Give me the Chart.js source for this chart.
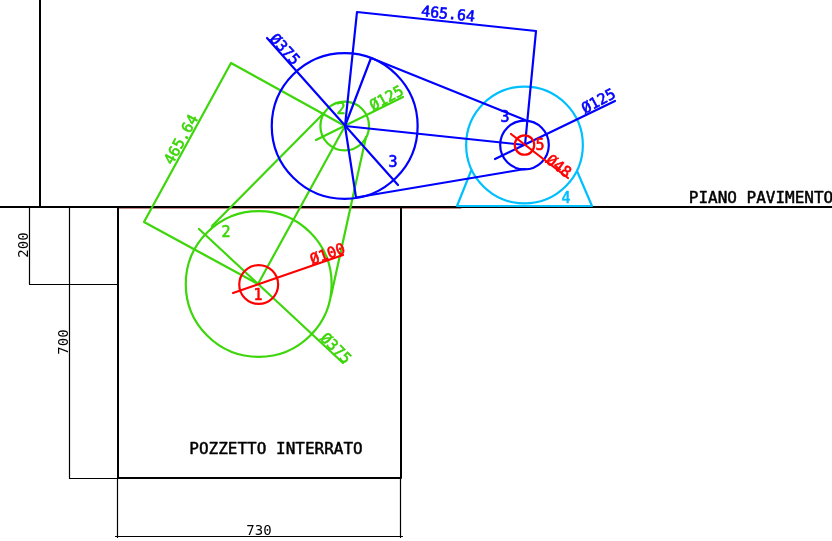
<!DOCTYPE html>
<html lang="it">

<head>
    <meta charset="UTF-8">
    <title>Pozzetto interrato</title>
    <script src="https://cdn.jsdelivr.net/npm/chart.js"></script>
    <style>
        html, body { margin: 0; padding: 0; background: #fff; overflow: hidden; }
        canvas { display: block; }
    </style>
</head>

<body>
    <canvas id="drawing" width="832" height="541"></canvas>
    <script>
        // polylines as [x, y, x, y, ...] in drawing units, y pointing down
        const heavyBlackLines = [
            [0, 207, 832, 207],
            [40, 0, 40, 207],
            [118, 207, 118, 478, 401, 478, 401, 207]
        ];
        const thinBlackLines = [
            [29.5, 207, 29.5, 284.5, 118, 284.5],
            [69.5, 207, 69.5, 478.5, 118, 478.5],
            [117.5, 478, 117.5, 537.5],
            [400.5, 478, 400.5, 537.5],
            [115.5, 536.5, 402.5, 536.5]
        ];
        const darkRedLines = [
            [118, 208.5, 461, 208.5]
        ];
        const redLines = [
            [233, 293, 343, 255],
            [511, 134, 568, 178]
        ];
        const blueLines = [
            [267, 38, 398, 185],
            [357, 12, 536, 31, 525, 145, 345, 126, 357, 12],
            [345, 126, 371, 58, 525, 120],
            [345, 126, 356, 197.5, 525, 169],
            [495, 159, 615, 101]
        ];
        const greenLines = [
            [345, 126, 231, 63, 144, 222, 258, 284, 345, 126],
            [199, 229, 343, 363],
            [212, 226, 324, 113],
            [331, 296, 366, 137],
            [316, 140, 403, 97]
        ];
        const cyanLines = [
            [471, 171, 457, 206, 592, 206, 577, 171]
        ];

        // circles as [centre x, centre y, diameter in mm]
        const redCircles = [[258.7, 284.5, 100], [524.5, 145, 50]];
        const blueCircles = [[344.7, 126, 375], [524.5, 145, 125]];
        const greenCircles = [[258.7, 284, 375], [344.7, 126, 125]];
        const cyanCircles = [[524.5, 145, 300]];

        // labels as [text, x, y, rotation in degrees]
        const dimensionLabels = [
            ['200', 24, 245, -90],
            ['700', 64, 342, -90],
            ['730', 259, 531, 0]
        ];
        const titleLabels = [
            ['PIANO PAVIMENTO', 761, 199, 0],
            ['POZZETTO INTERRATO', 276, 450, 0]
        ];
        const blueLabels = [
            ['465.64', 448, 15, 6],
            ['Ø375', 284, 50, 48],
            ['Ø125', 599, 102, -28],
            ['3', 393, 163, 0],
            ['3', 505, 118, 0]
        ];
        const greenLabels = [
            ['465.64', 182, 140, -61],
            ['Ø125', 387, 99, -28],
            ['Ø375', 335, 349, 45],
            ['2', 341, 110, 0],
            ['2', 226, 233, 0]
        ];
        const redLabels = [
            ['Ø100', 328, 255, -20],
            ['Ø48', 558, 167, 38],
            ['1', 258, 296, 0],
            ['5', 540, 146, 0]
        ];
        const cyanLabels = [
            ['4', 566, 199, 0]
        ];

        const BLACK = '#000000';
        const RED = '#ff0000';
        const BLUE = '#0000ff';
        const GREEN = '#3cd60a';
        const CYAN = '#00bfff';
        const PX_PER_MM = 0.389;
        const FONT = '"DejaVu Sans Mono"';

        function lineDataset(flat, color, width) {
            const points = [];
            for (let i = 0; i < flat.length; i += 2) {
                points.push({ x: flat[i], y: flat[i + 1] });
            }
            return {
                data: points,
                showLine: true,
                borderColor: color,
                borderWidth: width,
                borderCapStyle: 'round',
                borderJoinStyle: 'round',
                pointRadius: 0,
                tension: 0
            };
        }

        function circleDataset(circle, color) {
            return {
                data: [{ x: circle[0], y: circle[1] }],
                showLine: false,
                pointStyle: 'circle',
                pointRadius: circle[2] / 2 * PX_PER_MM,
                pointBorderColor: color,
                pointBackgroundColor: 'transparent',
                pointBorderWidth: 2.2
            };
        }

        const datasets = [
            ...redLines.map(l => lineDataset(l, RED, 2.2)),
            ...redCircles.map(c => circleDataset(c, RED)),
            ...blueLines.map(l => lineDataset(l, BLUE, 2.2)),
            ...blueCircles.map(c => circleDataset(c, BLUE)),
            ...greenLines.map(l => lineDataset(l, GREEN, 2.2)),
            ...greenCircles.map(c => circleDataset(c, GREEN)),
            ...cyanLines.map(l => lineDataset(l, CYAN, 2.2)),
            ...cyanCircles.map(c => circleDataset(c, CYAN)),
            ...heavyBlackLines.map(l => lineDataset(l, BLACK, 2)),
            ...thinBlackLines.map(l => lineDataset(l, BLACK, 1.2)),
            ...darkRedLines.map(l => lineDataset(l, '#c98a8a', 1))
        ];

        // rotated texts go through the same scales as the lines
        const labelPlugin = {
            id: 'labels',
            afterDatasetsDraw(chart) {
                const ctx = chart.ctx;
                const groups = [
                    [dimensionLabels, BLACK, '14px', 0],
                    [titleLabels, BLACK, '16px', 0.5],
                    [blueLabels, BLUE, '15px', 0.6],
                    [greenLabels, GREEN, '15px', 0.6],
                    [redLabels, RED, '15px', 0.6],
                    [cyanLabels, CYAN, '15px', 0.6]
                ];
                ctx.save();
                ctx.textAlign = 'center';
                ctx.textBaseline = 'middle';
                ctx.lineJoin = 'round';
                groups.forEach(([labels, color, font, stroke]) => {
                    ctx.fillStyle = color;
                    ctx.strokeStyle = color;
                    ctx.lineWidth = stroke;
                    ctx.font = font + ' ' + FONT;
                    labels.forEach(([text, x, y, angle]) => {
                        ctx.save();
                        ctx.translate(chart.scales.x.getPixelForValue(x), chart.scales.y.getPixelForValue(y));
                        ctx.rotate(angle * Math.PI / 180);
                        ctx.fillText(text, 0, 0);
                        if (stroke) {
                            ctx.strokeText(text, 0, 0);
                        }
                        ctx.restore();
                    });
                });
                ctx.restore();
            }
        };

        new Chart(document.getElementById('drawing').getContext('2d'), {
            type: 'scatter',
            data: { datasets: datasets },
            options: {
                responsive: false,
                animation: false,
                layout: { padding: 0, autoPadding: false },
                plugins: { legend: { display: false }, tooltip: { enabled: false } },
                scales: {
                    x: { type: 'linear', display: false, min: 0, max: 832 },
                    y: { type: 'linear', display: false, min: 0, max: 541, reverse: true }
                }
            },
            plugins: [labelPlugin]
        });
    </script>
</body>

</html>
